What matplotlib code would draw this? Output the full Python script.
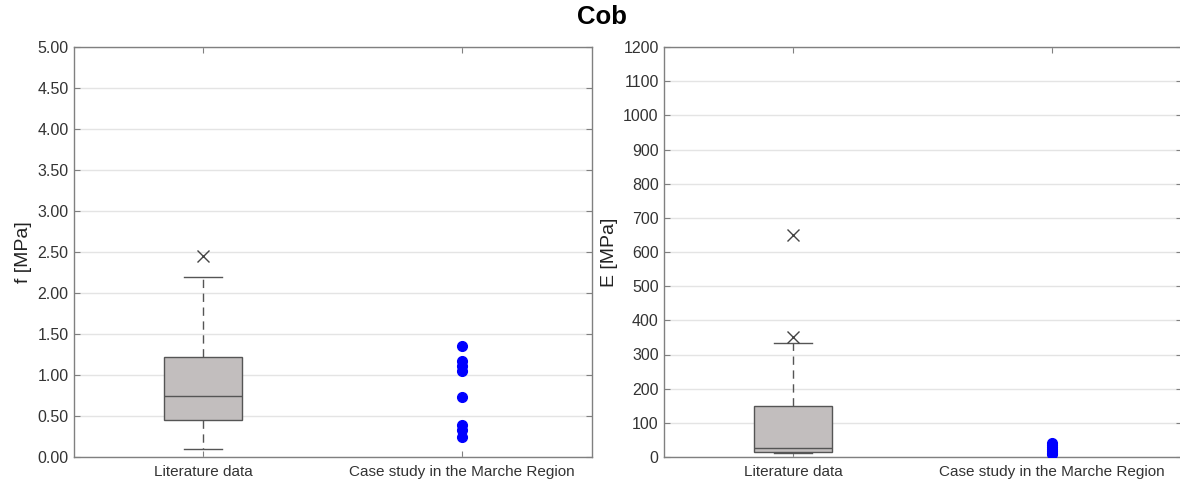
import matplotlib
matplotlib.use("Agg")
import matplotlib.pyplot as plt
import numpy as np

# category labels
categories = ["Literature data", "Case study in the Marche Region"]

# compressive strength f [MPa] - literature box stats
f_stats = dict(whislo=0.10, q1=0.45, med=0.75, q3=1.22, whishi=2.20, fliers=[2.45])
# case study points
f_case = [1.35, 1.17, 1.11, 1.05, 0.73, 0.39, 0.33, 0.25]
f_ticks = [0.0, 0.5, 1.0, 1.5, 2.0, 2.5, 3.0, 3.5, 4.0, 4.5, 5.0]

# elastic modulus E [MPa]
E_stats = dict(whislo=11, q1=15, med=27, q3=150, whishi=334, fliers=[350, 650])
E_case = [42, 35, 28, 22, 17, 13, 10]
E_ticks = list(range(0, 1300, 100))

plt.rcParams['font.family'] = ['Liberation Sans', 'DejaVu Sans']

fig = plt.figure(figsize=(11.8, 4.84), dpi=100)
ax1 = fig.add_axes([73.5 / 1180, 27 / 484, 518 / 1180, 410 / 484])
ax2 = fig.add_axes([663.5 / 1180, 27 / 484, 518 / 1180, 410 / 484])

edge = '#555555'


def draw_panel(ax, stats, case, ticks, ylabel, fmt):
    ax.bxp([stats], positions=[1], widths=0.30, patch_artist=True,
           showfliers=True,
           boxprops=dict(facecolor='#c2bebe', edgecolor=edge, linewidth=1.0),
           medianprops=dict(color=edge, linewidth=1.0),
           whiskerprops=dict(color=edge, linewidth=1.0, linestyle=(0, (6, 4))),
           capprops=dict(color=edge, linewidth=1.0),
           capwidths=0.15,
           flierprops=dict(marker='x', markersize=9, markeredgecolor='#444444',
                           markeredgewidth=1.0, linestyle='none'))
    ax.plot(np.full(len(case), 2), case, 'o', color='#0000ff', markersize=7,
            linestyle='none', zorder=3)
    ax.set_xlim(0.5, 2.5)
    ax.set_ylim(ticks[0], ticks[-1])
    ax.set_yticks(ticks)
    ax.set_yticklabels([fmt.format(t) for t in ticks])
    ax.set_xticks([1, 2])
    ax.set_xticklabels(categories)
    ax.yaxis.grid(True, color='#e4e4e4', linewidth=1.0)
    ax.set_axisbelow(True)
    ax.tick_params(direction='in', top=True, right=True, length=4,
                   color='#808080', labelcolor='#333333', labelsize=11.5)
    ax.tick_params(axis='x', pad=6, labelsize=11)
    for s in ax.spines.values():
        s.set_color('#808080')
        s.set_linewidth(1.0)
    ax.set_ylabel(ylabel, fontsize=14, color='#222222', labelpad=4)


draw_panel(ax1, f_stats, f_case, f_ticks, 'f [MPa]', '{:.2f}')
draw_panel(ax2, E_stats, E_case, E_ticks, 'E [MPa]', '{:.0f}')

fig.suptitle('Cob', fontsize=18.5, fontweight='bold', x=0.51, y=0.99)

fig.savefig('out.png', dpi=100)
